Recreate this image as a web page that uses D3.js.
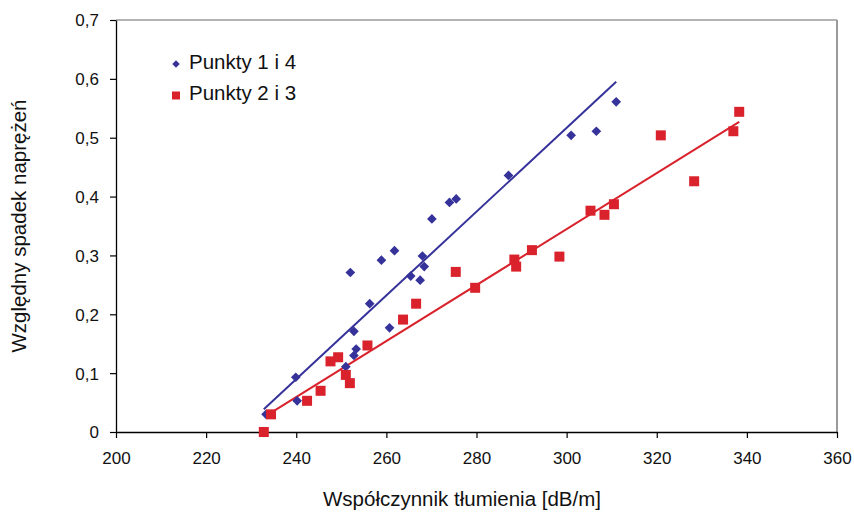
<!DOCTYPE html>
<html>
<head>
<meta charset="utf-8">
<script src="https://cdn.jsdelivr.net/npm/d3@7"></script>
<style>
  html, body { margin: 0; padding: 0; background: #fff; }
  svg { display: block; font-family: "Liberation Sans", Arial, sans-serif; }
</style>
</head>
<body>
<svg id="chart" width="854" height="512"></svg>
<script>
// Punkty 1 i 4: attenuation coefficient [dB/m] vs relative stress drop
const series14X = [233.3, 239.9, 240.2, 251.0, 252.0, 252.8, 252.8, 253.3, 256.3, 258.9, 260.7, 261.8,
                   265.4, 267.5, 268.0, 268.4, 270.1, 274.0, 275.5, 287.1, 301.0, 306.6, 311.0];
const series14Y = [0.030, 0.093, 0.053, 0.111, 0.271, 0.171, 0.130, 0.141, 0.218, 0.292, 0.177, 0.308,
                   0.265, 0.258, 0.299, 0.281, 0.362, 0.390, 0.396, 0.436, 0.504, 0.511, 0.561];
// Punkty 2 i 3
const series23X = [232.8, 234.4, 242.4, 245.4, 247.6, 249.3, 251.0, 251.9, 255.8, 263.7, 266.6, 275.4,
                   279.7, 288.4, 288.8, 292.3, 298.4, 305.3, 308.4, 310.5, 320.9, 328.3, 337.0, 338.3];
const series23Y = [0.000, 0.030, 0.053, 0.070, 0.120, 0.127, 0.097, 0.083, 0.147, 0.191, 0.218, 0.272,
                   0.245, 0.293, 0.281, 0.309, 0.298, 0.376, 0.369, 0.387, 0.504, 0.426, 0.511, 0.544];

// linear trend lines (start / end of the fitted line)
const trend14X = [232.8, 311.0];
const trend14Y = [0.0385, 0.595];
const trend23X = [233.0, 338.3];
const trend23Y = [0.026, 0.527];

const seriesNames = ["Punkty 1 i 4", "Punkty 2 i 3"];
const xTicks = [200, 220, 240, 260, 280, 300, 320, 340, 360];
const yTicks = [0, 0.1, 0.2, 0.3, 0.4, 0.5, 0.6, 0.7];
const xTitle = "Współczynnik tłumienia [dB/m]";
const yTitle = "Względny spadek naprężeń";

const blue = "#35329a";
const red = "#d9222c";

const svg = d3.select("#chart");
const plot = { left: 116, right: 837, top: 20, bottom: 432 };

const x = d3.scaleLinear().domain([200, 360]).range([plot.left, plot.right]);
const y = d3.scaleLinear().domain([0, 0.7]).range([plot.bottom, plot.top]);
const fmt = v => v === 0 ? "0" : d3.format(".1f")(v).replace(".", ",");

// frame: grey top/right, black axes
svg.append("line").attr("x1", plot.left).attr("x2", plot.right).attr("y1", plot.top).attr("y2", plot.top)
  .attr("stroke", "#9a9a9a").attr("stroke-width", 1.5);
svg.append("line").attr("x1", plot.right).attr("x2", plot.right).attr("y1", plot.top).attr("y2", plot.bottom)
  .attr("stroke", "#9a9a9a").attr("stroke-width", 2);

const xAxis = svg.append("g").attr("transform", `translate(0,${plot.bottom})`)
  .call(d3.axisBottom(x).tickValues(xTicks).tickSize(6).tickSizeOuter(0).tickPadding(14).tickFormat(d3.format("d")));
const yAxis = svg.append("g").attr("transform", `translate(${plot.left},0)`)
  .call(d3.axisLeft(y).tickValues(yTicks).tickSize(6).tickSizeOuter(0).tickPadding(11).tickFormat(fmt));
[xAxis, yAxis].forEach(g => {
  g.select(".domain").attr("stroke", "#000").attr("stroke-width", 1.3);
  g.selectAll(".tick line").attr("stroke", "#000").attr("stroke-width", 1.2);
  g.selectAll(".tick text").attr("fill", "#111").style("font-size", "17px")
    .style("font-family", "'Liberation Sans', Arial, sans-serif");
});
yAxis.selectAll(".tick text").attr("dy", "0.35em");

const line = d3.line().x(d => x(d[0])).y(d => y(d[1]));
svg.append("path").attr("d", line(d3.zip(trend14X, trend14Y))).attr("stroke", blue).attr("stroke-width", 2).attr("fill", "none");
svg.append("path").attr("d", line(d3.zip(trend23X, trend23Y))).attr("stroke", red).attr("stroke-width", 2).attr("fill", "none");

const diamond = d3.symbol().type(d3.symbolDiamond2).size(60);
const square = d3.symbol().type(d3.symbolSquare).size(100);

svg.append("g").selectAll("path").data(d3.range(series14X.length)).join("path")
  .attr("d", diamond).attr("fill", blue)
  .attr("transform", i => `translate(${x(series14X[i])},${y(series14Y[i])})`);
svg.append("g").selectAll("path").data(d3.range(series23X.length)).join("path")
  .attr("d", square).attr("fill", red)
  .attr("transform", i => `translate(${x(series23X[i])},${y(series23Y[i])})`);

// legend
const legend = svg.append("g");
legend.append("path").attr("d", d3.symbol().type(d3.symbolDiamond2).size(36)).attr("fill", blue)
  .attr("transform", "translate(176,64)");
legend.append("path").attr("d", d3.symbol().type(d3.symbolSquare).size(64)).attr("fill", red)
  .attr("transform", "translate(176,95.5)");
legend.selectAll("text").data(seriesNames).join("text")
  .attr("x", 189).attr("y", (d, i) => 69 + i * 31)
  .style("font-size", "20.5px").attr("fill", "#111").text(d => d);

// axis titles
svg.append("text").attr("x", 462).attr("y", 506).attr("text-anchor", "middle")
  .style("font-size", "20.5px").attr("fill", "#111").text(xTitle);
svg.append("text").attr("transform", `translate(26,226) rotate(-90)`)
  .attr("text-anchor", "middle").style("font-size", "20.5px").attr("fill", "#111").text(yTitle);
</script>
</body>
</html>
